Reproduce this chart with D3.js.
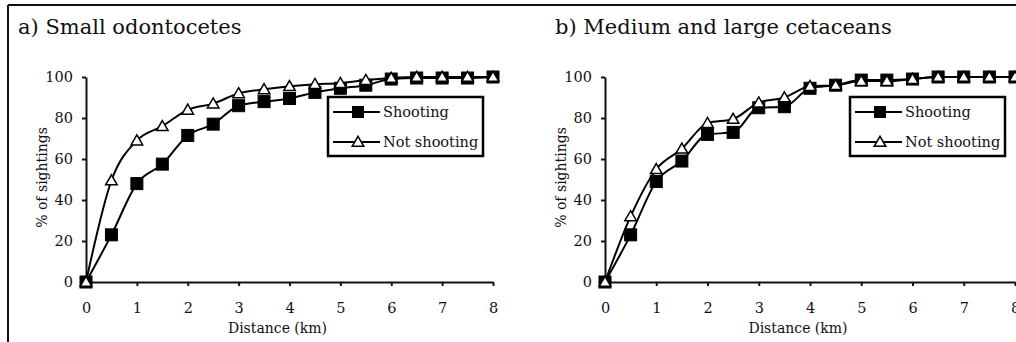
<!DOCTYPE html>
<html>
<head>
<meta charset="utf-8">
<script src="https://cdn.jsdelivr.net/npm/d3@7"></script>
<style>
  body { margin: 0; background: #fff; }
  svg text { font-family: "DejaVu Serif", serif; fill: #111; }
</style>
</head>
<body>
<svg id="chart" width="1016" height="342"></svg>
<script>
// --- data ---
const distance = [0, 0.5, 1, 1.5, 2, 2.5, 3, 3.5, 4, 4.5, 5, 5.5, 6, 6.5, 7, 7.5, 8];
const smallShooting    = [0, 23, 48, 57.5, 71.5, 77, 86, 88, 89.5, 92.5, 94.5, 96, 99, 99.5, 99.5, 99.5, 100];
const smallNotShooting = [0, 49.5, 69, 76, 84, 87, 92, 94, 95.5, 96.5, 97, 98.5, 99.5, 100, 100, 100, 100];
const largeShooting    = [0, 23, 49, 59, 72, 73, 85, 85.5, 94.5, 96, 98.5, 98.5, 99, 100, 100, 100, 100];
const largeNotShooting = [0, 32, 55, 65, 77.5, 79.5, 87.5, 90, 95.5, 96, 98, 98, 99, 100, 100, 100, 100];
const xTicks = [0, 1, 2, 3, 4, 5, 6, 7, 8];
const yTicks = [0, 20, 40, 60, 80, 100];
const seriesNames = ["Shooting", "Not shooting"];
const panelTitles = ["a)  Small odontocetes", "b)  Medium and large cetaceans"];

const svg = d3.select("#chart");

// outer frame (top + left edge only)
svg.append("line").attr("x1", 8).attr("x2", 1016).attr("y1", 5).attr("y2", 5)
    .attr("stroke", "#111").attr("stroke-width", 2);
svg.append("line").attr("x1", 8).attr("x2", 8).attr("y1", 5).attr("y2", 342)
    .attr("stroke", "#111").attr("stroke-width", 2);

const panels = [
    { title: panelTitles[0], titleX: 18, left: 86, right: 493, shoot: smallShooting, notShoot: smallNotShooting },
    { title: panelTitles[1], titleX: 555, left: 605, right: 1015, shoot: largeShooting, notShoot: largeNotShooting }
];

function drawPanel(p) {
    const x = d3.scaleLinear().domain([0, 8]).range([p.left, p.right]);
    const y = d3.scaleLinear().domain([0, 100]).range([282, 77]);
    const g = svg.append("g");

    g.append("text").attr("x", p.titleX).attr("y", 34)
        .attr("font-size", 21).text(p.title);

    const xAxis = g.append("g").attr("transform", `translate(0,${y(0)})`)
        .call(d3.axisBottom(x).tickValues(xTicks).tickSize(4).tickSizeOuter(0).tickPadding(17));
    const yAxis = g.append("g").attr("transform", `translate(${x(0)},0)`)
        .call(d3.axisLeft(y).tickValues(yTicks).tickSize(4).tickSizeOuter(0).tickPadding(9));
    [xAxis, yAxis].forEach(a => {
        a.selectAll("path, line").attr("stroke", "#111").attr("stroke-width", 2);
        a.selectAll("text").attr("font-size", 14.5).attr("font-family", "DejaVu Serif").attr("fill", "#111");
    });

    g.append("text").attr("x", (p.left + p.right) / 2 - 12).attr("y", 333)
        .attr("text-anchor", "middle").attr("font-size", 14).text("Distance (km)");
    g.append("text")
        .attr("transform", `translate(${p.left - 39},${(y(0) + y(100)) / 2 - 2}) rotate(-90)`)
        .attr("text-anchor", "middle").attr("font-size", 14).text("% of sightings");

    const line = d3.line().x(d => x(d[0])).y(d => y(d[1])).curve(d3.curveMonotoneX);
    const shootPts = distance.map((d, i) => [d, p.shoot[i]]);
    const notPts = distance.map((d, i) => [d, p.notShoot[i]]);

    g.append("path").datum(shootPts).attr("d", line)
        .attr("fill", "none").attr("stroke", "#000").attr("stroke-width", 2);
    g.append("path").datum(notPts).attr("d", line)
        .attr("fill", "none").attr("stroke", "#000").attr("stroke-width", 2);

    const sq = 12;
    g.selectAll(".sq").data(shootPts).enter().append("rect")
        .attr("x", d => x(d[0]) - sq / 2).attr("y", d => y(d[1]) - sq / 2)
        .attr("width", sq).attr("height", sq)
        .attr("fill", "#000").attr("stroke", "#000").attr("stroke-width", 1);

    const tri = d3.symbol().type(d3.symbolTriangle).size(58);
    g.selectAll(".tri").data(notPts).enter().append("path")
        .attr("d", tri)
        .attr("transform", d => `translate(${x(d[0])},${y(d[1]) + 1})`)
        .attr("fill", "#fff").attr("stroke", "#000").attr("stroke-width", 1.5);

    // legend
    const lx = p.right - 165, ly = 97;
    const leg = g.append("g").attr("transform", `translate(${lx},${ly})`);
    leg.append("rect").attr("width", 155).attr("height", 59)
        .attr("fill", "#fff").attr("stroke", "#000").attr("stroke-width", 2.5);
    seriesNames.forEach((name, i) => {
        const ry = 15 + i * 30;
        leg.append("line").attr("x1", 5).attr("x2", 52).attr("y1", ry).attr("y2", ry)
            .attr("stroke", "#000").attr("stroke-width", 2);
        if (i === 0) {
            leg.append("rect").attr("x", 30 - sq / 2).attr("y", ry - sq / 2)
                .attr("width", sq).attr("height", sq).attr("fill", "#000");
        } else {
            leg.append("path").attr("d", tri).attr("transform", `translate(30,${ry + 1})`)
                .attr("fill", "#fff").attr("stroke", "#000").attr("stroke-width", 1.5);
        }
        leg.append("text").attr("x", 55).attr("y", ry + 5).attr("font-size", 14.5).text(name);
    });
}

panels.forEach(drawPanel);
</script>
</body>
</html>
